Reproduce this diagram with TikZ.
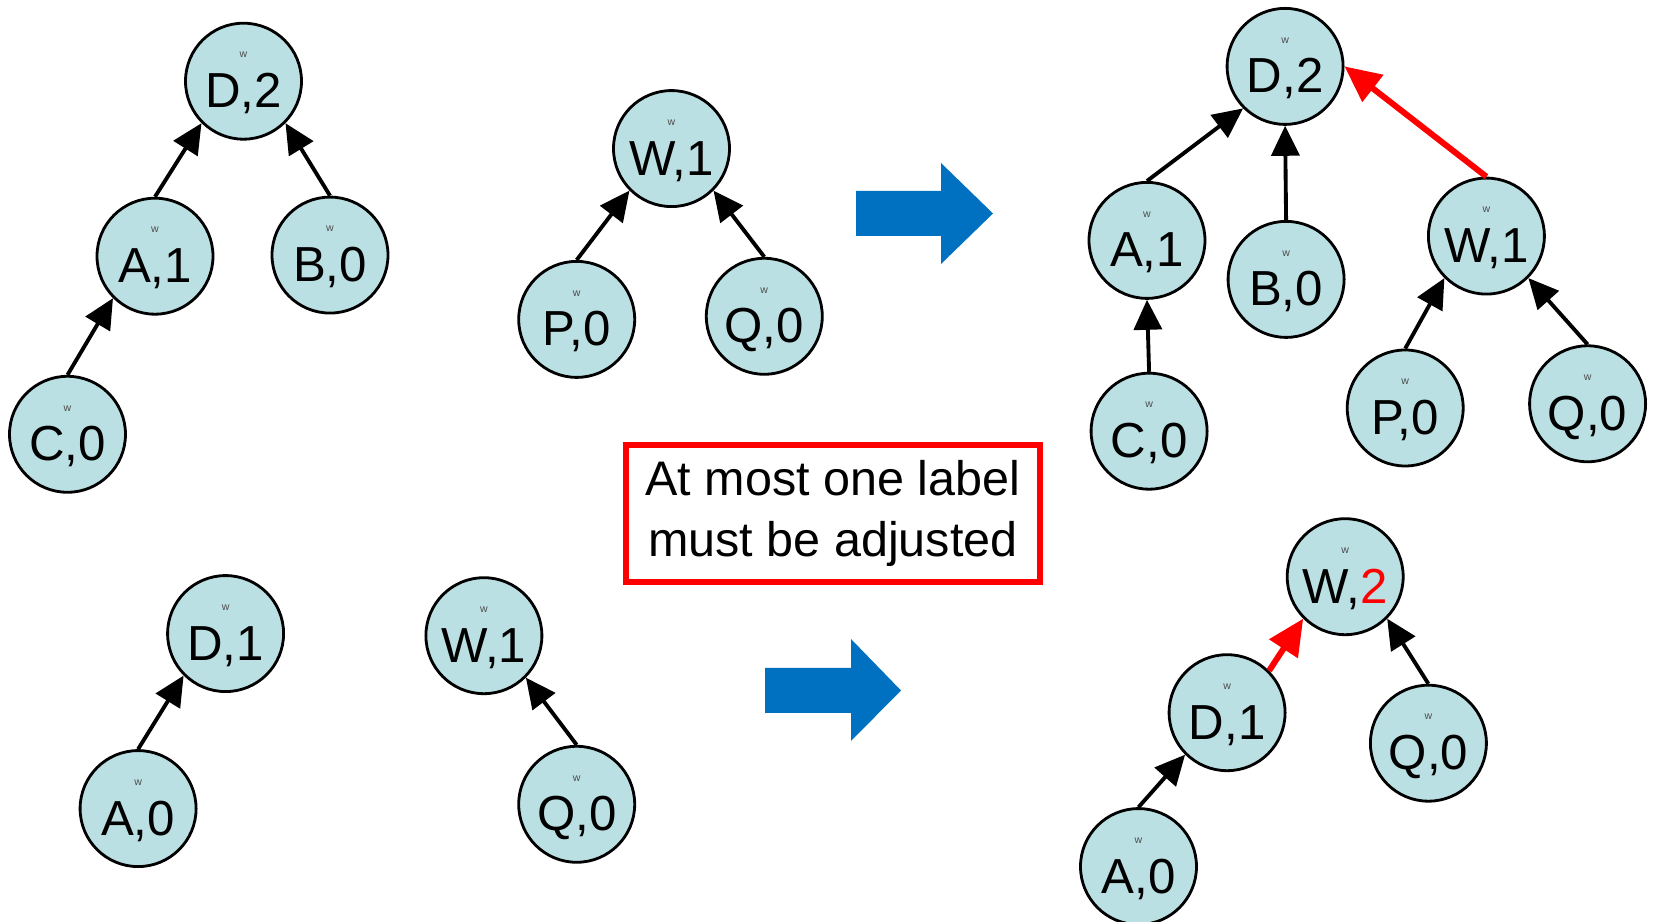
\documentclass[tikz,border=0pt]{standalone}
\usepackage{fontspec}
\setmainfont{Liberation Sans}
\usepackage{xcolor}
\usetikzlibrary{arrows.meta}

\definecolor{nodefill}{RGB}{187,224,227}
\definecolor{arrowblue}{RGB}{0,112,192}

\begin{document}
\begin{tikzpicture}[
  nd/.style={circle, draw, line width=0.8pt, fill=nodefill, minimum size=1.16cm, inner sep=0pt,
    text height=0.53cm, text depth=0cm, font=\fontsize{14}{14}\selectfont,
    label={[font=\fontsize{3}{3}\selectfont, text=black!70, inner sep=0pt, yshift=0.26cm]center:w}},
  arr/.style={line width=1.1pt, -{Triangle[length=3mm, width=2.8mm]}},
  redarr/.style={line width=1.7pt, red, -{Triangle[length=3.6mm, width=3.3mm]}},
  note/.style={draw=red, line width=1.6pt, minimum width=4.14cm, minimum height=1.37cm, align=center,
    font=\fontsize{13.8}{17.5}\selectfont}
]
\useasboundingbox (0,0) rectangle (16.53,-9.22);

% first pair of trees
\node[nd] (tD) at (2.435,-0.812) {D,2};
\node[nd] (tA) at (1.550,-2.562) {A,1};
\node[nd] (tB) at (3.300,-2.551) {B,0};
\node[nd] (tC) at (0.675,-4.343) {C,0};
\node[nd] (tW) at (6.715,-1.486) {W,1};
\node[nd] (tP) at (5.767,-3.194) {P,0};
\node[nd] (tQ) at (7.643,-3.163) {Q,0};

% result of the first union
\node[nd] (rD) at (12.851,-0.664) {D,2};
\node[nd] (rA) at (11.470,-2.404) {A,1};
\node[nd] (rB) at (12.861,-2.794) {B,0};
\node[nd] (rW) at (14.864,-2.361) {W,1};
\node[nd] (rC) at (11.491,-4.312) {C,0};
\node[nd] (rP) at (14.052,-4.080) {P,0};
\node[nd] (rQ) at (15.876,-4.038) {Q,0};

% second pair of trees
\node[nd] (bD) at (2.256,-6.336) {D,1};
\node[nd] (bA) at (1.381,-8.086) {A,0};
\node[nd] (bW) at (4.839,-6.357) {W,1};
\node[nd] (bQ) at (5.767,-8.043) {Q,0};

% result of the second union
\node[nd] (sW) at (13.452,-5.767) {W,\textcolor{red}{2}};
\node[nd] (sD) at (12.271,-7.127) {D,1};
\node[nd] (sQ) at (14.284,-7.432) {Q,0};
\node[nd] (sA) at (11.385,-8.666) {A,0};

\node[note] (msg) at (8.33,-5.135) {At most one label\\ must be adjusted};

% parent pointers
\draw[arr] (tA.north) -- (tD.south west);
\draw[arr] (tB.north) -- (tD.south east);
\draw[arr] (tC.north) -- (tA.south west);
\draw[arr] (tP.north) -- (tW.south west);
\draw[arr] (tQ.north) -- (tW.south east);

\draw[arr] (rA.north) -- (rD.south west);
\draw[arr] (rB.north) -- (rD.south);
\draw[arr] (rC.north) -- (rA.south);
\draw[arr] (rP.north) -- (rW.south west);
\draw[arr] (rQ.north) -- (rW.south east);
\draw[redarr] (rW.north) -- (rD.east);

\draw[arr] (bA.north) -- (bD.south west);
\draw[arr] (bQ.north) -- (bW.south east);

\draw[arr] (sA.north) -- (sD.south west);
\draw[arr] (sQ.north) -- (sW.south east);
\draw[redarr] (sD.north east) -- (sW.south west);

% big blue arrows
\fill[arrowblue] (8.56,-1.91) -- (9.41,-1.91) -- (9.41,-1.63) -- (9.93,-2.135)
  -- (9.41,-2.64) -- (9.41,-2.36) -- (8.56,-2.36) -- cycle;
\fill[arrowblue] (7.65,-6.68) -- (8.51,-6.68) -- (8.51,-6.39) -- (9.01,-6.905)
  -- (8.51,-7.41) -- (8.51,-7.13) -- (7.65,-7.13) -- cycle;
\end{tikzpicture}
\end{document}
